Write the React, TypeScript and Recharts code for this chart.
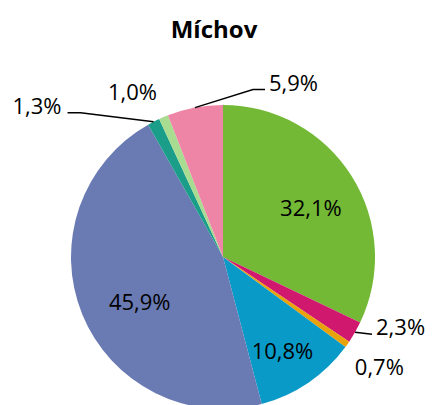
import React from "react";
import { PieChart, Pie, Cell } from "recharts";

const categories = ["A", "B", "C", "D", "E", "F", "G", "H"];
const values = [32.1, 2.3, 0.7, 10.8, 45.9, 1.3, 1.0, 5.9];
const colors = ["#74B936", "#D0186F", "#E8A20C", "#0A9AC8", "#6A7AB3", "#1A9E8A", "#A8DC90", "#EE85A6"];
const title = "Míchov";

const data = categories.map((c, i) => ({ name: c, value: values[i] }));

type LabelCfg = {
  kind: "inside" | "text" | "line";
  rf?: number;
  dx?: number;
  dy?: number;
  elbow?: [number, number];
  ext?: number;
  anchor?: "start" | "middle" | "end";
};

const labelCfg: LabelCfg[] = [
  { kind: "inside", rf: 0.66, dx: 3, dy: 3 },
  { kind: "line", elbow: [17, 2], ext: 0, anchor: "start" },
  { kind: "text", dx: 32, dy: 22 },
  { kind: "inside", rf: 0.72, dx: -2, dy: 2 },
  { kind: "inside", rf: 0.62, dx: 4, dy: 8 },
  { kind: "line", elbow: [-73, -9], ext: -13, anchor: "end" },
  { kind: "text", dx: -31, dy: -26 },
  { kind: "line", elbow: [58, -18], ext: 12, anchor: "start" },
];

const RAD = Math.PI / 180;
const fmt = (v: number) => v.toFixed(1).replace(".", ",") + "%";

const renderLabel = (props: any) => {
  const { cx, cy, midAngle, outerRadius, index, value } = props;
  const cfg = labelCfg[index];
  const pt = (r: number) => ({
    x: cx + r * Math.cos(-midAngle * RAD),
    y: cy + r * Math.sin(-midAngle * RAD),
  });
  const textStyle = { fontFamily: "'Open Sans', sans-serif", fontSize: 22, fill: "#000" };
  if (cfg.kind === "inside") {
    const p = pt(outerRadius * (cfg.rf || 0.6));
    return (
      <text key={index} x={p.x + (cfg.dx || 0)} y={p.y + (cfg.dy || 0)} textAnchor="middle" dominantBaseline="central" style={textStyle}>
        {fmt(value)}
      </text>
    );
  }
  const a = pt(outerRadius);
  if (cfg.kind === "text") {
    return (
      <text key={index} x={a.x + (cfg.dx || 0)} y={a.y + (cfg.dy || 0)} textAnchor="middle" dominantBaseline="central" style={textStyle}>
        {fmt(value)}
      </text>
    );
  }
  const e = { x: a.x + cfg.elbow![0], y: a.y + cfg.elbow![1] };
  const end = { x: e.x + (cfg.ext || 0), y: e.y };
  const tx = cfg.anchor === "end" ? end.x - 6 : end.x + 4;
  return (
    <g key={index}>
      <polyline points={`${a.x},${a.y} ${e.x},${e.y} ${end.x},${end.y}`} fill="none" stroke="#000" strokeWidth={1.5} />
      <text x={tx} y={end.y - 8} textAnchor={cfg.anchor} dominantBaseline="central" style={textStyle}>
        {fmt(value)}
      </text>
    </g>
  );
};

export default function App() {
  return (
    <div style={{ position: "absolute", left: 0, top: 0, width: 432, height: 405, background: "#fff" }}>
      <div
        style={{
          position: "absolute",
          left: 0,
          top: 12,
          width: 428,
          textAlign: "center",
          fontFamily: "'Open Sans', sans-serif",
          fontWeight: 700,
          fontSize: 24,
          lineHeight: "34px",
          color: "#000",
        }}
      >
        {title}
      </div>
      <PieChart width={432} height={405} margin={{ top: 0, right: 0, bottom: 0, left: 0 }}>
        <Pie
          data={data}
          dataKey="value"
          cx={223}
          cy={257}
          outerRadius={152}
          startAngle={90}
          endAngle={-270}
          stroke="none"
          label={renderLabel}
          labelLine={false}
          isAnimationActive={false}
        >
          {data.map((d, i) => (
            <Cell key={d.name} fill={colors[i]} />
          ))}
        </Pie>
      </PieChart>
    </div>
  );
}
